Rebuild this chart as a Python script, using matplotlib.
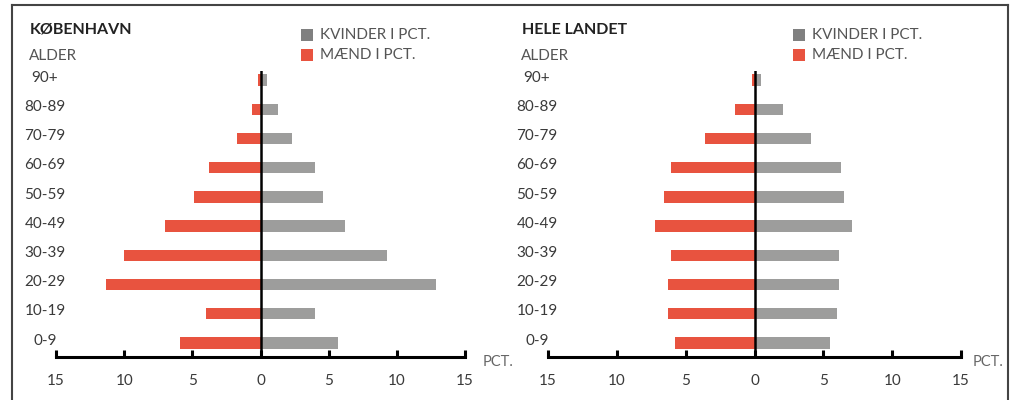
import numpy as np
import matplotlib.pyplot as plt
from matplotlib.lines import Line2D
from matplotlib.patches import Rectangle
from matplotlib.transforms import blended_transform_factory

plt.rcParams['font.family'] = ['Lato', 'DejaVu Sans']

ages = ["0-9", "10-19", "20-29", "30-39", "40-49",
        "50-59", "60-69", "70-79", "80-89", "90+"]

# København, pct.
kbh_maend = [5.9, 4.0, 11.3, 10.0, 7.0, 4.85, 3.75, 1.75, 0.6, 0.15]
kbh_kvinder = [5.65, 4.0, 12.85, 9.3, 6.2, 4.6, 4.0, 2.3, 1.3, 0.45]

# Hele landet, pct.
land_maend = [5.75, 6.25, 6.25, 6.1, 7.25, 6.55, 6.1, 3.6, 1.4, 0.17]
land_kvinder = [5.5, 6.0, 6.15, 6.15, 7.1, 6.5, 6.3, 4.1, 2.1, 0.5]

ticks = [-15, -10, -5, 0, 5, 10, 15]

RED = "#E8533F"
GREY = "#9D9D9C"
LEG_GREY = "#808080"
TXT = "#3a3a3a"

W, H = 1011, 400
fig = plt.figure(figsize=(W / 100, H / 100), dpi=100)


def px(x, y):
    return x / W, 1 - y / H


def panel(x0, x1, label_x, pct_x, title, maend, kvinder):
    left, _ = px(x0, 0)
    ax = fig.add_axes([left, (H - 357) / H, (x1 - x0) / W, (357 - 71) / H])
    y = np.arange(len(ages))
    ax.barh(y, -np.array(maend), height=0.39, color=RED, linewidth=0)
    ax.barh(y, kvinder, height=0.39, color=GREY, linewidth=0)
    ax.axvline(0, color="black", lw=1.8, zorder=3)
    ax.set_xlim(-15, 15)
    ax.set_ylim(-0.48, 9.31)
    for s in ["top", "left", "right"]:
        ax.spines[s].set_visible(False)
    ax.spines["bottom"].set_linewidth(2.2)
    ax.set_yticks([])
    ax.set_xticks(ticks)
    ax.set_xticklabels([str(abs(t)) for t in ticks], fontsize=11, color=TXT)
    ax.tick_params(axis="x", direction="in", length=5, width=2.2, pad=12)

    tr = blended_transform_factory(fig.transFigure, ax.transData)
    for yi, a in zip(y, ages):
        ax.text(label_x / W, yi + 0.08, a, transform=tr, ha="center",
                va="center", fontsize=11, color=TXT)

    fig.text(*px(x0 - 26, 30), title, fontsize=11.5, fontweight="bold",
             color="#222222", va="center")
    fig.text(*px(x0 - 27, 56), "ALDER", fontsize=11, color="#555555",
             va="center")
    fig.text(*px(pct_x, 362), "PCT.", fontsize=10.5, color="#666666",
             va="center")

    lx = x0 + 245
    for yy, col, txt in [(35, LEG_GREY, "KVINDER I PCT."),
                         (55, RED, "MÆND I PCT.")]:
        fig.add_artist(Rectangle(px(lx, yy + 6), 12 / W, 12 / H,
                                 transform=fig.transFigure, color=col, lw=0))
        fig.text(*px(lx + 19, yy), txt, fontsize=11, color="#555555",
                 va="center")
    return ax


panel(56, 465, 45, 483, "KØBENHAVN", kbh_maend, kbh_kvinder)
panel(548, 961, 537, 973, "HELE LANDET", land_maend, land_kvinder)

# frame around the figure
for xs, ys in [([12, 12], [5, 400]), ([12, 1008], [5, 5]),
               ([1008, 1008], [5, 400])]:
    fig.add_artist(Line2D([x / W for x in xs], [1 - v / H for v in ys],
                          transform=fig.transFigure, color="#444444", lw=1.5))

fig.savefig("out.png", dpi=100)
